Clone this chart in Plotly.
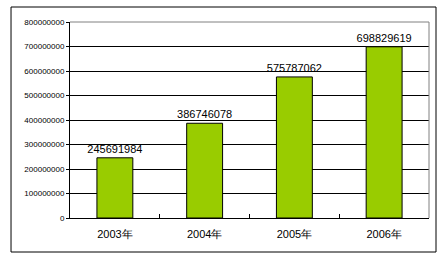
import plotly.graph_objects as go

categories = ["2003年", "2004年", "2005年", "2006年"]
values = [245691984, 386746078, 575787062, 698829619]
y_ticks = [0, 100000000, 200000000, 300000000, 400000000, 500000000, 600000000, 700000000, 800000000]

fig = go.Figure()
fig.add_trace(go.Bar(
    x=categories, y=values,
    marker=dict(color="#99CC00", line=dict(color="#000000", width=1)),
    width=0.4,
    text=[str(v) for v in values],
    textposition="outside",
    constraintext="none",
    textfont=dict(family="Liberation Sans, Arial", size=11, color="#000000"),
    cliponaxis=False,
))

fig.update_layout(
    width=439, height=258,
    margin=dict(l=70, r=10, t=22, b=40),
    paper_bgcolor="white", plot_bgcolor="white",
    showlegend=False,
    font=dict(family="Liberation Sans, Arial", color="#000000"),
    xaxis=dict(
        showline=True, linecolor="#000000", linewidth=1,
        ticks="inside", ticklen=4, tickcolor="#000000", tickson="boundaries",
        tickfont=dict(size=11), showgrid=False, ticklabelstandoff=6,
    ),
    yaxis=dict(
        range=[0, 800000000], tickvals=y_ticks, ticktext=[str(v) for v in y_ticks],
        showline=True, linecolor="#000000", linewidth=1,
        ticks="outside", ticklen=3, tickcolor="#000000",
        tickfont=dict(size=8), showgrid=True, gridcolor="#000000", gridwidth=1,
        zeroline=False,
    ),
    shapes=[
        dict(type="line", xref="paper", yref="paper", x0=0, x1=1, y0=1, y1=1,
             line=dict(color="#808080", width=1)),
        dict(type="line", xref="paper", yref="paper", x0=1, x1=1, y0=0, y1=1,
             line=dict(color="#808080", width=1)),
        dict(type="rect", xref="paper", yref="paper", x0=-0.1643, x1=1.0195, y0=-0.1735, y1=1.0765,
             line=dict(color="#000000", width=1)),
    ],
)

fig.write_html("out.html")
